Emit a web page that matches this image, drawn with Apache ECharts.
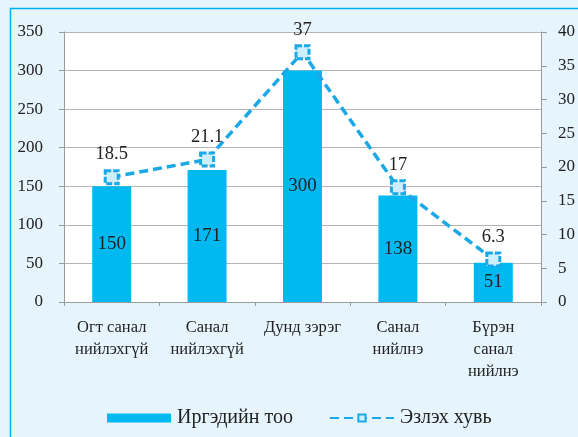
<!DOCTYPE html>
<html lang="mn">
<head>
  <meta charset="UTF-8">
  <title>Иргэдийн тоо ба эзлэх хувь</title>
  <script src="https://cdn.jsdelivr.net/npm/echarts@6/dist/echarts.min.js"></script>
  <style>
    html, body { margin: 0; padding: 0; background: #e6f4fc; }
    #main { width: 578px; height: 437px; }
  </style>
</head>
<body>
  <div id="main"></div>
  <script>
    // Ангилал
    const categories = ['Огт санал\nнийлэхгүй', 'Санал\nнийлэхгүй', 'Дунд зэрэг', 'Санал\nнийлнэ', 'Бүрэн\nсанал\nнийлнэ'];
    // Иргэдийн тоо (зүүн тэнхлэг)
    const counts = [150, 171, 300, 138, 51];
    // Эзлэх хувь (баруун тэнхлэг)
    const shares = [18.5, 21.1, 37, 17, 6.3];

    const serif = '"Liberation Serif", "DejaVu Serif", serif';
    const cyan = '#00b9f1';
    const lineCyan = '#1aa8e6';

    var myChart = echarts.init(document.getElementById('main'));
    var option = {
      backgroundColor: '#e6f4fc',
      animation: false,
      textStyle: { fontFamily: serif },
      graphic: [{
        type: 'rect',
        shape: { x: 10.5, y: 8.5, width: 600, height: 500 },
        style: { fill: 'none', stroke: '#00aeef', lineWidth: 1.5 },
        z: -1
      }],
      grid: {
        left: 64, right: 33, top: 32, bottom: 135,
        show: true, backgroundColor: '#ffffff', borderWidth: 0
      },
      legend: {
        left: 107, top: 408, padding: 0,
        itemWidth: 64, itemHeight: 9, itemGap: 36,
        textStyle: { fontFamily: serif, fontSize: 20, color: '#222', padding: [0, 0, 0, 1] },
        data: [
          { name: 'Иргэдийн тоо', icon: 'rect' },
          { name: 'Эзлэх хувь' }
        ]
      },
      xAxis: {
        type: 'category',
        data: categories,
        axisLine: { lineStyle: { color: '#9a9a9a', width: 1 } },
        axisTick: { show: true, length: 4, lineStyle: { color: '#9a9a9a' } },
        axisLabel: {
          interval: 0, margin: 15, fontSize: 16.5, lineHeight: 22,
          color: '#222', fontFamily: serif
        }
      },
      yAxis: [
        {
          type: 'value', min: 0, max: 350, interval: 50,
          axisLine: { show: true, lineStyle: { color: '#9a9a9a' } },
          axisTick: { show: true, length: 5, lineStyle: { color: '#9a9a9a' } },
          axisLabel: { margin: 21, fontSize: 17, color: '#222', fontFamily: serif },
          splitLine: { lineStyle: { color: '#b5b5b5', width: 1.2 } }
        },
        {
          type: 'value', min: 0, max: 40, interval: 5,
          axisLine: { show: true, lineStyle: { color: '#9a9a9a' } },
          axisTick: { show: true, length: 6, lineStyle: { color: '#9a9a9a' } },
          axisLabel: { margin: 17, fontSize: 17, color: '#222', fontFamily: serif },
          splitLine: { show: false }
        }
      ],
      series: [
        {
          name: 'Иргэдийн тоо',
          type: 'bar',
          data: counts,
          barWidth: 39,
          itemStyle: { color: cyan },
          label: {
            show: true, position: 'inside',
            fontSize: 19, color: '#222', fontFamily: serif
          }
        },
        {
          name: 'Эзлэх хувь',
          type: 'line',
          yAxisIndex: 1,
          data: shares,
          symbol: 'rect',
          symbolSize: 13,
          lineStyle: { color: lineCyan, width: 3.5, type: [9, 5] },
          itemStyle: {
            color: '#cdeefb', borderColor: lineCyan, borderWidth: 3,
            borderType: [6, 2]
          },
          label: {
            show: true, position: 'top', distance: 5,
            fontSize: 18.5, color: '#222', fontFamily: serif
          },
          z: 5
        }
      ]
    };
    myChart.setOption(option);
  </script>
</body>
</html>
